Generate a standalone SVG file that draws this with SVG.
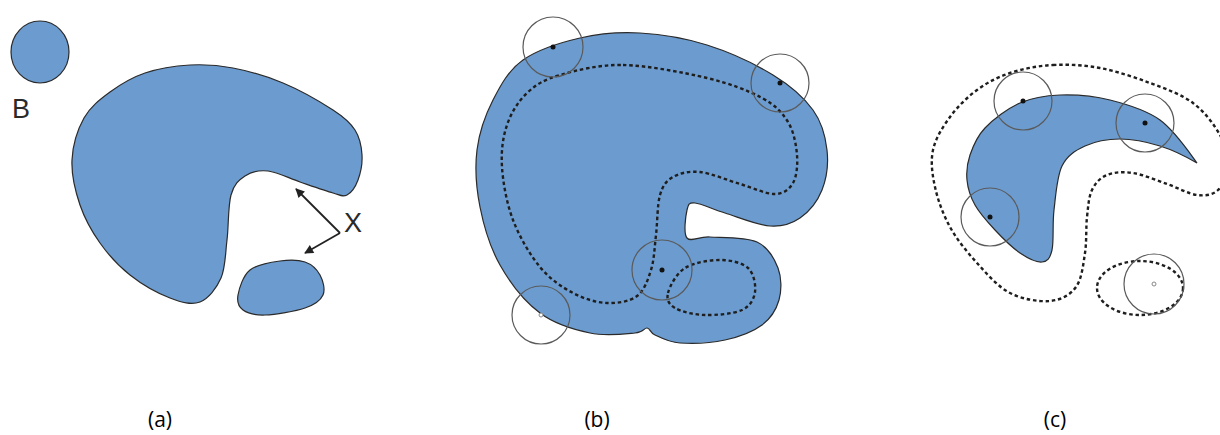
<svg xmlns="http://www.w3.org/2000/svg" width="1220" height="435" viewBox="0 0 1220 435">
<style>
.blob{fill:#6c9ccf;stroke:#2a2a2a;stroke-width:1.2}
.dash{fill:none;stroke:#1e1e1e;stroke-width:2.4;stroke-dasharray:3.5 2.8}
.probe{fill:none;stroke:#5a5a5a;stroke-width:1.2}
.dot{fill:#111}
.hollow{fill:#fff;stroke:#888;stroke-width:1}
.lbl{font-family:"Liberation Sans",Arial,sans-serif;font-size:27px;fill:#2a2a2a}
.cap{font-family:"Open Sans","Liberation Sans",sans-serif;font-size:21px;fill:#000;text-anchor:middle}
.arr{stroke:#222;stroke-width:1.8;fill:none;marker-end:url(#ah)}
</style>
<defs>
<marker id="ah" viewBox="0 0 10 10" refX="9" refY="5" markerWidth="10" markerHeight="9" markerUnits="userSpaceOnUse" orient="auto">
<path d="M0,0 L10,5 L0,10 Z" fill="#222"/>
</marker>
</defs>
<rect width="1220" height="435" fill="#fff"/>

<g id="panel-a">
<ellipse class="blob" cx="40" cy="52" rx="29" ry="31"/>
<text class="lbl" x="12" y="118">B</text>
<path class="blob" d="M190,65 C204.7,64.2 217.5,65 233,68 S266.3,76 283,83 S321,102.2 333,110 S350.2,122.5 355,130 S361.5,146.7 362,155 S360.5,173.3 358,180 S351.2,192.8 347,195 S340.8,195.2 333,193 S310.8,185.7 300,182 S277.2,172 268,171 S251.2,172 245,176 S234,184.3 231,195 S228.7,226.2 227,240 S225.5,267.7 221,278 S208.5,298.7 200,302 S181.7,302.5 170,298 S141.7,284.2 130,275 S108.3,254.7 100,243 S84.7,218.8 80,205 S71.3,174.5 72,160 S77.7,129.3 84,118 S99.8,99.5 110,92 S131.7,77.5 145,73 S175.3,65.8 190,65 Z"/>
<path class="blob" d="M238,295 C239.2,288.3 243,275.7 250,270 S270.8,262.3 280,261 S298.3,259.7 305,262 S317,269.5 320,275 S325.5,289.5 323,295 S314.7,304.7 305,308 S275.3,314.7 265,315 S247.5,313.3 243,310 S236.8,301.7 238,295 Z"/>
<g id="connectors">
<line class="arr" x1="340" y1="233" x2="296" y2="189"/>
<line class="arr" x1="340" y1="233" x2="305" y2="253"/>
</g>
<text class="lbl" x="344" y="232">X</text>
</g>

<g id="panel-b">
<path class="blob" d="M523,60 C537.5,49.7 560.5,42.5 580,38 S618.8,31.8 640,33 S684.8,38 707,45 S755.3,64.2 773,75 S804,97.5 813,110 S825.5,136.7 827,150 S826.5,178.7 822,190 S808.7,212 800,218 S782.5,226.8 770,226 S737.5,216.8 725,213 S701.3,203.5 695,203 S688.3,204.2 687,210 S683.2,233.5 687,238 S698.3,236.3 710,237 S745.7,236.8 757,242 S774.3,258.3 778,268 S781.7,290.5 779,300 S771,318.3 762,325 S738.7,337 725,340 S691.7,343.8 680,343 S660.5,337.5 655,335 S650.3,328.3 647,328 S644.5,332.2 635,333 S605.8,336.3 590,333 S555,324.3 540,313 S510,282.7 500,265 S483.8,226.2 480,207 S474.8,167.8 477,150 S485.3,115 493,100 S508.5,70.3 523,60 Z"/>
<path class="dash" d="M623,65 C647.5,65.5 683.8,72.5 707,78 S748.5,90.7 762,98 S782.2,112.5 788,122 S796.2,144.8 797,155 S796.7,176.5 793,183 S783.8,193.8 775,194 S752.5,187.7 740,184 S711.2,173.2 700,172 S679.7,173.2 673,177 S662.8,185.3 660,195 S657.5,222.5 656,235 S654.2,259.8 651,270 S644.3,290.5 637,296 S617.7,303.5 607,303 S584.2,299 573,293 S550,279.2 540,267 S519.3,236.7 513,220 S503,182.8 502,167 S502.8,137.3 507,125 S518.2,101.3 527,93 S544,79.7 560,75 S598.5,64.5 623,65 Z"/>
<path class="dash" d="M668,293 C669.7,286.3 676.3,273.5 685,268 S709.5,260 720,260 S742.2,262.7 748,268 S756,285 755,292 S750.3,306.2 742,310 S716.2,315.3 705,315 S681.2,311.7 675,308 S666.3,299.7 668,293 Z"/>
<circle class="probe" cx="553" cy="47" r="30"/>
<circle class="dot" cx="553" cy="47" r="2.5"/>
<circle class="probe" cx="780" cy="83" r="29"/>
<circle class="dot" cx="780" cy="83" r="2.5"/>
<circle class="probe" cx="662" cy="270" r="30"/>
<circle class="dot" cx="662" cy="270" r="2.5"/>
<circle class="probe" cx="541" cy="315" r="29"/>
<circle class="hollow" cx="541" cy="315" r="2"/>
</g>

<g id="panel-c">
<path class="blob" d="M970,155 C973,146.3 976.7,136.7 985,128 S1007.5,108.5 1020,103 S1045,95.5 1060,95 S1093.3,95.8 1110,100 S1145.5,109.5 1160,120 C1174.5,130.5 1189,152 1197,163 C1185,156 1172.8,150 1160,146 S1132.5,139 1120,139 S1094.7,141.5 1085,146 S1067.2,155.3 1062,166 S1055.7,196 1054,210 S1054,241.3 1052,250 S1047.3,261.5 1042,262 S1027.8,258.3 1020,253 S1002.5,238 995,230 S979.7,213.3 975,205 S967.8,188.3 967,180 S967,163.7 970,155 Z"/>
<path class="dash" d="M1053,65 C1068,64.2 1083.8,65 1100,68 S1134.5,77.2 1150,83 S1181.3,94.3 1193,103 S1214.2,124.7 1220,135 S1228.3,155.8 1228,165 S1223.2,185 1218,190 S1205.5,196 1197,195 S1177.7,187.7 1167,184 S1143,174.5 1133,173 S1113.8,172.2 1107,175 S1095.3,183 1092,190 S1088.2,206.5 1087,217 S1086.8,241.3 1085,253 S1081.8,279 1076,287 S1061,300 1050,301 S1022.2,299.3 1010,293 S987,274 977,263 S957,239.7 950,227 S937.8,199.8 935,187 S930.5,161.7 933,150 S942.7,127 950,117 S967,97.3 977,90 S997.3,77.2 1010,73 S1038,65.8 1053,65 Z"/>
<ellipse class="dash" cx="1140" cy="288" rx="43" ry="27"/>
<circle class="probe" cx="1023" cy="101" r="29"/>
<circle class="dot" cx="1023" cy="101" r="2.5"/>
<circle class="probe" cx="1145" cy="123" r="29"/>
<circle class="dot" cx="1145" cy="123" r="2.5"/>
<circle class="probe" cx="990" cy="217" r="29"/>
<circle class="dot" cx="990" cy="217" r="2.5"/>
<circle class="probe" cx="1154" cy="284" r="30"/>
<circle class="hollow" cx="1154" cy="284" r="2"/>
</g>

<g id="captions">
<text class="cap" x="160" y="427">(a)</text>
<text class="cap" x="597" y="427">(b)</text>
<text class="cap" x="1055" y="427">(c)</text>
</g>
</svg>
